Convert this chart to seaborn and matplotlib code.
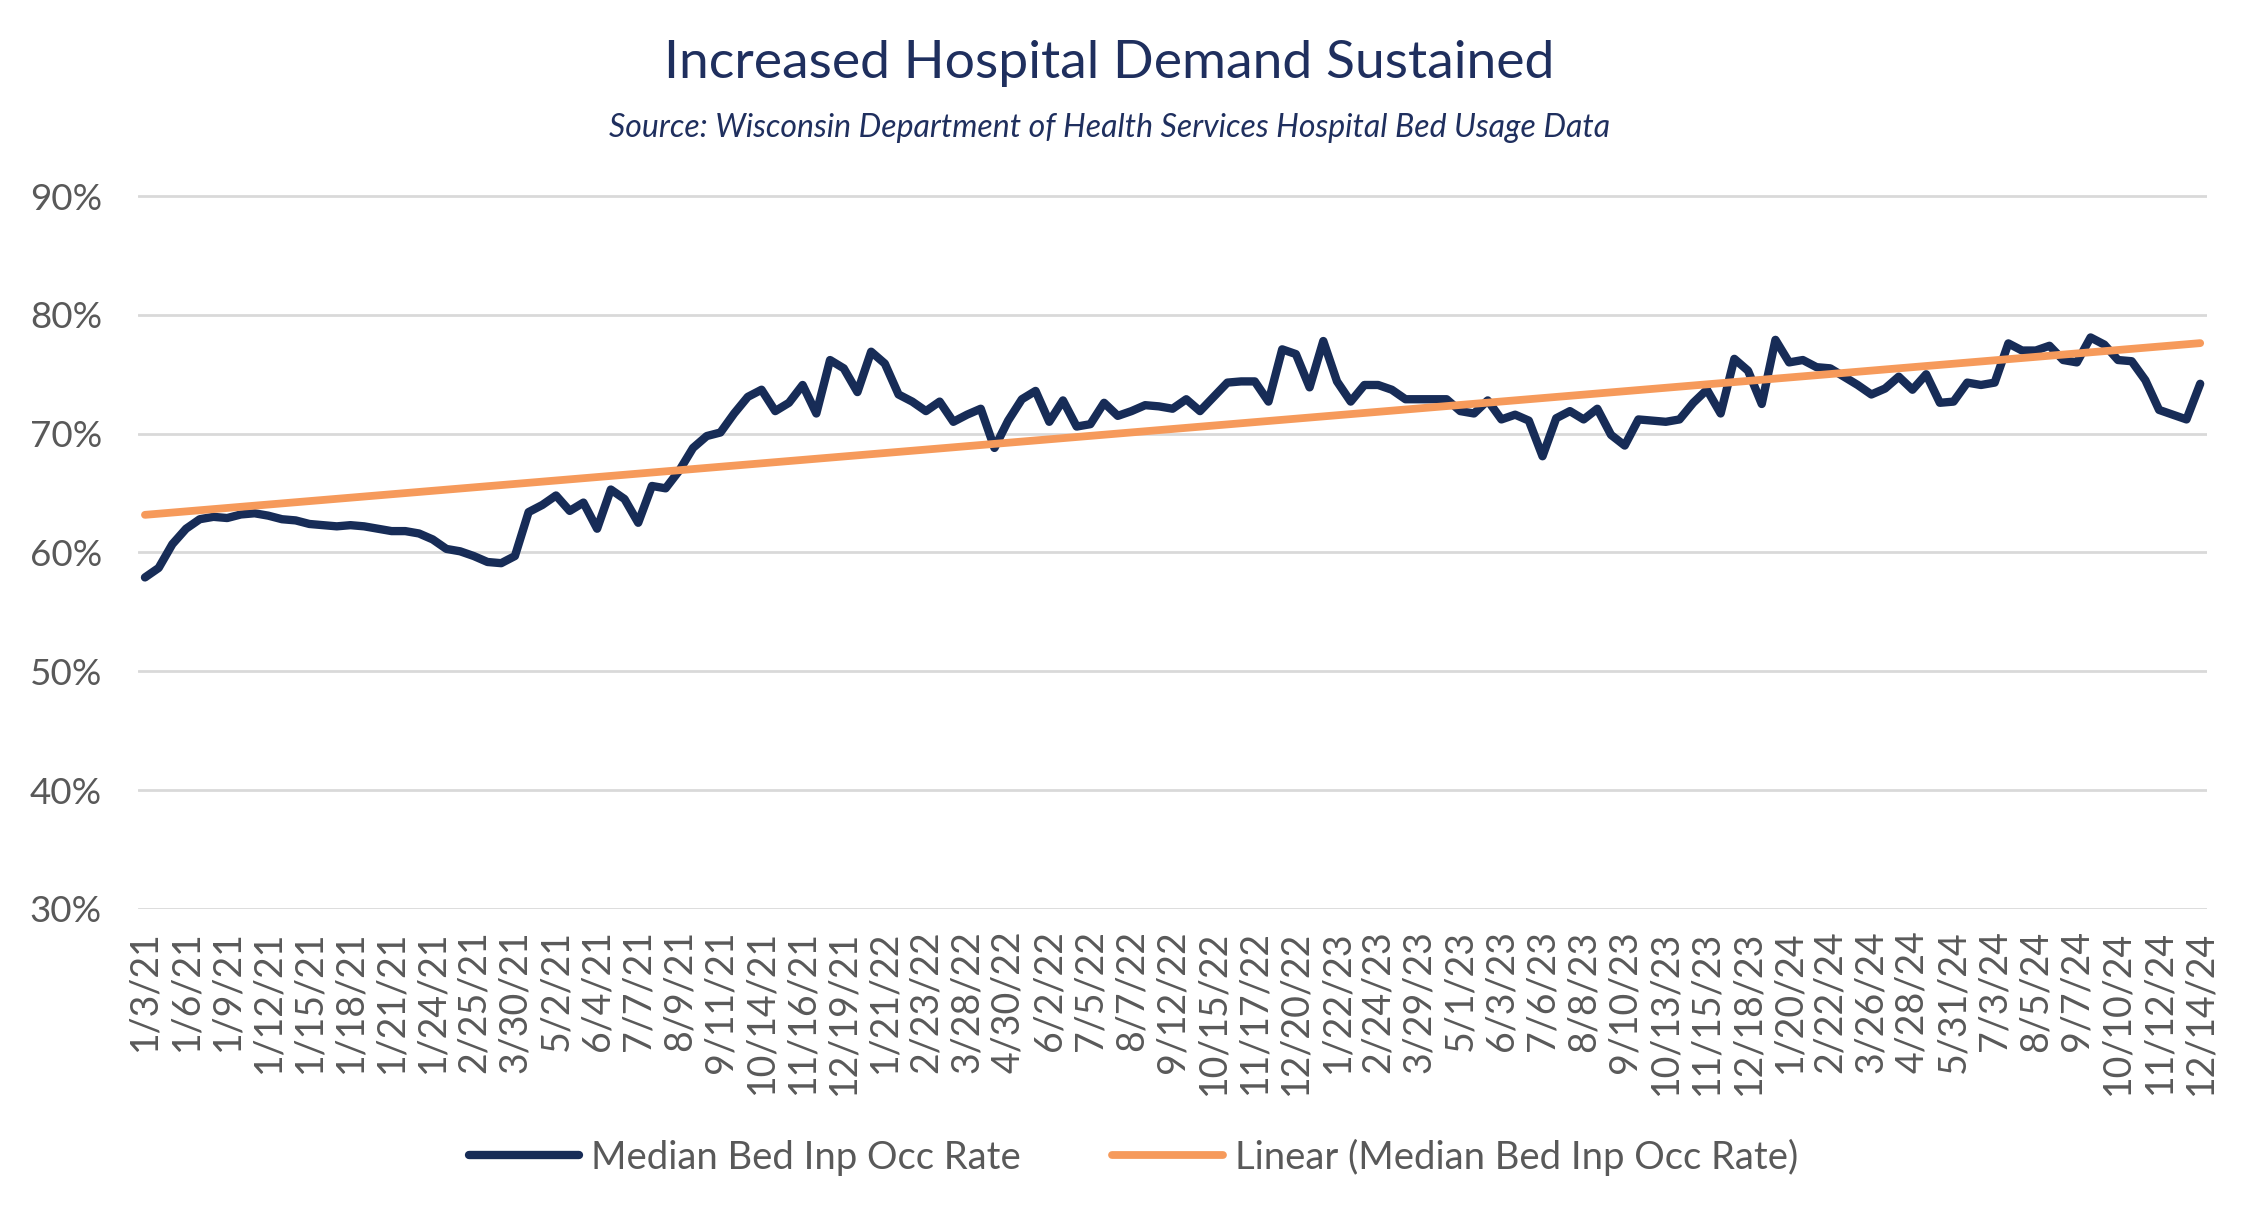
import numpy as np
import pandas as pd
import matplotlib
matplotlib.use("Agg")
import matplotlib.pyplot as plt
from matplotlib.ticker import PercentFormatter
import seaborn as sns

# ---------------- data ----------------
# weekly median inpatient bed occupancy rate, percent
occ_rate = [
    57.9, 58.7, 60.7, 62.0, 62.8, 63.0, 62.9, 63.2, 63.3, 63.1,
    62.8, 62.7, 62.4, 62.3, 62.2, 62.3, 62.2, 62.0, 61.8, 61.8,
    61.6, 61.1, 60.3, 60.1, 59.7, 59.2, 59.1, 59.7, 63.4, 64.0,
    64.8, 63.5, 64.2, 62.0, 65.3, 64.5, 62.5, 65.6, 65.4, 66.9,
    68.8, 69.8, 70.1, 71.7, 73.1, 73.7, 71.9, 72.6, 74.1, 71.7,
    76.2, 75.5, 73.5, 76.9, 75.9, 73.3, 72.7, 71.9, 72.7, 71.0,
    71.6, 72.1, 68.8, 71.1, 72.9, 73.6, 71.0, 72.8, 70.6, 70.8,
    72.6, 71.5, 71.9, 72.4, 72.3, 72.1, 72.9, 71.9, 73.1, 74.3,
    74.4, 74.4, 72.7, 77.1, 76.7, 73.9, 77.8, 74.4, 72.7, 74.1,
    74.1, 73.7, 72.9, 72.9, 72.9, 72.9, 71.9, 71.7, 72.8, 71.2,
    71.6, 71.1, 68.1, 71.3, 71.9, 71.2, 72.1, 69.9, 69.0, 71.2,
    71.1, 71.0, 71.2, 72.6, 73.7, 71.7, 76.3, 75.3, 72.5, 77.9,
    76.0, 76.2, 75.6, 75.5, 74.8, 74.1, 73.3, 73.8, 74.8, 73.7,
    75.0, 72.6, 72.7, 74.3, 74.1, 74.3, 77.6, 77.0, 77.0, 77.4,
    76.2, 76.0, 78.1, 77.5, 76.2, 76.1, 74.5, 72.0, 71.6, 71.2,
    74.2,
]

# every third category is labelled on the axis
tick_labels = [
    "1/3/21", "1/6/21", "1/9/21", "1/12/21", "1/15/21", "1/18/21", "1/21/21",
    "1/24/21", "2/25/21", "3/30/21", "5/2/21", "6/4/21", "7/7/21", "8/9/21",
    "9/11/21", "10/14/21", "11/16/21", "12/19/21",
    "1/21/22", "2/23/22", "3/28/22", "4/30/22", "6/2/22", "7/5/22", "8/7/22",
    "9/12/22", "10/15/22", "11/17/22", "12/20/22",
    "1/22/23", "2/24/23", "3/29/23", "5/1/23", "6/3/23", "7/6/23", "8/8/23",
    "9/10/23", "10/13/23", "11/15/23", "12/18/23",
    "1/20/24", "2/22/24", "3/26/24", "4/28/24", "5/31/24", "7/3/24", "8/5/24",
    "9/7/24", "10/10/24", "11/12/24", "12/14/24",
]
label_step = 3

series_name = "Median Bed Inp Occ Rate"
trend_name = "Linear (Median Bed Inp Occ Rate)"
title = "Increased Hospital Demand Sustained"
subtitle = "Source: Wisconsin Department of Health Services Hospital Bed Usage Data"

df = pd.DataFrame({"idx": np.arange(len(occ_rate)), "rate": occ_rate})

# ---------------- style ----------------
NAVY = "#172C57"
ORANGE = "#F69A5B"
GRAY = "#595959"
TITLE_C = "#1F2F5E"

sns.set_theme(style="white")
plt.rcParams["font.family"] = ["Lato", "DejaVu Sans"]

fig = plt.figure(figsize=(22.53, 12.18), dpi=100)
ax = fig.add_axes([0.0613, 0.2533, 0.9183, 0.5862])

sns.lineplot(data=df, x="idx", y="rate", ax=ax, color=NAVY, linewidth=6,
             solid_capstyle="round", solid_joinstyle="round")
sns.regplot(data=df, x="idx", y="rate", ax=ax, scatter=False, ci=None,
            color=ORANGE, line_kws={"linewidth": 5.6, "solid_capstyle": "round"})

ax.set_ylim(29.95, 90.05)
ax.set_xlim(-0.5, len(occ_rate) - 0.5)
ax.set_yticks(range(30, 91, 10))
ax.yaxis.set_major_formatter(PercentFormatter(100, decimals=0))
ax.set_xticks(df["idx"][::label_step])
ax.set_xticklabels(tick_labels, rotation=90)

ax.yaxis.grid(True, color="#D9D9D9", linewidth=2)
ax.xaxis.grid(False)
for s in ax.spines.values():
    s.set_visible(False)
ax.tick_params(axis="y", length=0, pad=26, labelsize=26.5, labelcolor=GRAY)
ax.tick_params(axis="x", length=0, pad=15, labelsize=27, labelcolor=GRAY)
ax.set_xlabel("")
ax.set_ylabel("")

# legend from the two drawn lines (data line, fitted trend)
handles = ax.lines[:2]
fig.legend(handles, [series_name, trend_name], loc="center",
           bbox_to_anchor=(0.503, 0.05), ncol=2, frameon=False, fontsize=27.5,
           labelcolor=GRAY, handlelength=2.9, handletextpad=0.3,
           columnspacing=2.4)

fig.text(0.4925, 0.948, title, ha="center", va="center", fontsize=38.5,
         color=TITLE_C)
fig.text(0.4925, 0.895, subtitle, ha="center", va="center", fontsize=23,
         style="italic", color=TITLE_C)

fig.savefig("out.png", dpi=100)
